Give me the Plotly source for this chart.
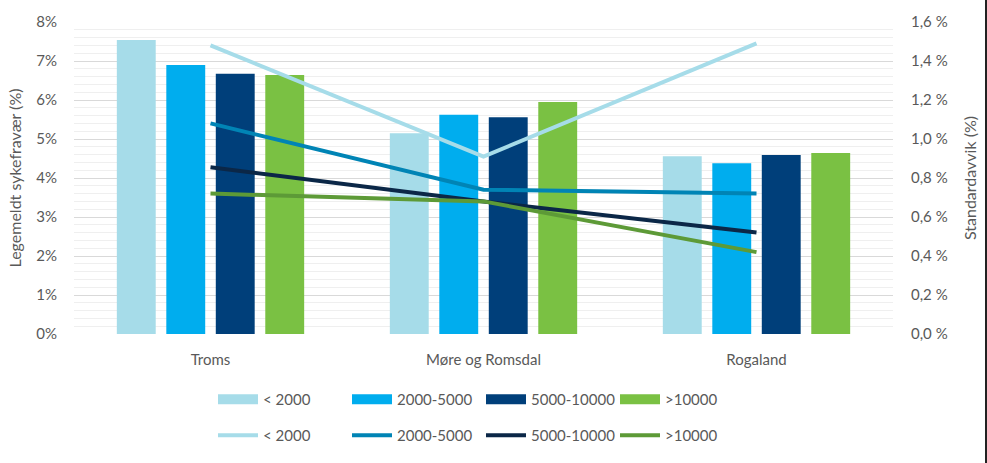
import plotly.graph_objects as go

categories = ["Troms", "Møre og Romsdal", "Rogaland"]
groups = ["< 2000", "2000-5000", "5000-10000", ">10000"]

# Legemeldt sykefravær (%) - bars, left axis
bar_lt2000 = [7.54, 5.15, 4.56]
bar_2000_5000 = [6.90, 5.62, 4.38]
bar_5000_10000 = [6.67, 5.56, 4.59]
bar_gt10000 = [6.64, 5.95, 4.64]

# Standardavvik (%) - lines, right axis
sd_lt2000 = [1.48, 0.91, 1.49]
sd_2000_5000 = [1.08, 0.74, 0.72]
sd_5000_10000 = [0.855, 0.68, 0.52]
sd_gt10000 = [0.72, 0.68, 0.42]

left_ticks = [0, 1, 2, 3, 4, 5, 6, 7, 8]
right_ticks = [0, 0.2, 0.4, 0.6, 0.8, 1.0, 1.2, 1.4, 1.6]

bar_values = [bar_lt2000, bar_2000_5000, bar_5000_10000, bar_gt10000]
sd_values = [sd_lt2000, sd_2000_5000, sd_5000_10000, sd_gt10000]
bar_colors = ["#A6DCE9", "#00ADEE", "#003F7A", "#7AC143"]
line_colors = ["#A6DCE9", "#0084B5", "#0B2747", "#5D9A37"]

FONT = "Lato, 'Open Sans', sans-serif"
TXT = "#595959"

L, R, T, B = 74, 94, 22, 129
PW = 987 - L - R
PH = 463 - T - B

fig = go.Figure()

for name, vals, col in zip(groups, bar_values, bar_colors):
    fig.add_trace(go.Bar(x=categories, y=vals, name=name, marker_color=col,
                         marker_line_width=0, showlegend=False, yaxis="y"))
    # legend swatch (wide rectangle like Excel)
    fig.add_trace(go.Scatter(x=[None], y=[None], mode="lines", name=name,
                             line=dict(color=col, width=11), legend="legend",
                             hoverinfo="skip"))

for name, vals, col in zip(groups, sd_values, line_colors):
    fig.add_trace(go.Scatter(x=categories, y=vals, name=name, mode="lines",
                             line=dict(color=col, width=4), yaxis="y2",
                             legend="legend2"))

fig.update_layout(
    width=987, height=463,
    margin=dict(l=L, r=R, t=T, b=B, autoexpand=False),
    paper_bgcolor="white", plot_bgcolor="white",
    font=dict(family=FONT, size=15, color=TXT),
    barmode="group", bargap=0.275, bargroupgap=0.214,
    xaxis=dict(showgrid=False, showline=False, ticks="",
               ticklabelstandoff=15, tickfont=dict(size=15, color=TXT)),
    yaxis=dict(range=[0, 8], tickvals=left_ticks,
               ticktext=[f"{v}%" for v in left_ticks],
               showgrid=True, gridcolor="#D9D9D9", gridwidth=1,
               zeroline=False, showline=False, ticks="",
               ticklabelstandoff=16,
               minor=dict(dtick=0.2, showgrid=True, gridcolor="#EFEFEF", gridwidth=1),
               title=dict(text="Legemeldt sykefravær (%)", standoff=10,
                          font=dict(size=16, color=TXT))),
    yaxis2=dict(range=[0, 1.6], overlaying="y", side="right",
                tickvals=right_ticks,
                ticktext=[f"{v:.1f} %".replace(".", ",") for v in right_ticks],
                showgrid=False, zeroline=False, showline=False, ticks="",
                ticklabelstandoff=17,
                title=dict(text="Standardavvik (%)", standoff=18,
                           font=dict(size=16, color=TXT))),
    legend=dict(orientation="h", x=(216 - L - 3) / PW, y=-0.21, xanchor="left", yanchor="middle",
                entrywidth=79, font=dict(size=15, color=TXT), itemwidth=40,
                bgcolor="rgba(0,0,0,0)"),
    legend2=dict(orientation="h", x=(216 - L - 3) / PW, y=-0.325, xanchor="left", yanchor="middle",
                 entrywidth=79, font=dict(size=15, color=TXT), itemwidth=40,
                 bgcolor="rgba(0,0,0,0)"),
)

# no page margin / scrollbars, and a thin dark frame edge on the right (as in the reference)
post = (
    "document.documentElement.style.overflow='hidden';"
    "document.body.style.overflow='hidden';"
    "document.body.style.margin='0';document.body.style.padding='0';"
    "var d=document.createElement('div');"
    "d.style.cssText='position:fixed;top:0;right:0;width:2px;height:100%;background:#222;z-index:10;';"
    "document.body.appendChild(d);"
)

fig.write_html("out.html", config={"displayModeBar": False}, post_script=post)
